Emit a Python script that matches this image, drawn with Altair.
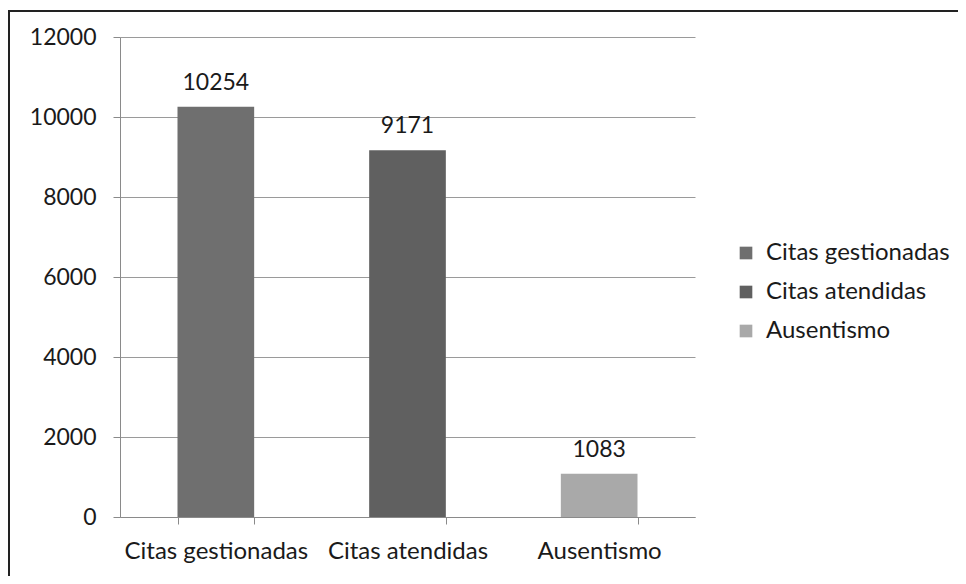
import altair as alt
import pandas as pd

categories = ["Citas gestionadas", "Citas atendidas", "Ausentismo"]
values = [10254, 9171, 1083]
colors = ["#6f6f6f", "#606060", "#a9a9a9"]
y_ticks = [0, 2000, 4000, 6000, 8000, 10000, 12000]

df = pd.DataFrame({"cat": categories, "val": values})

FONT = "Lato"
FS = 23
FS_CAT = 24
TXT = "#1a1a1a"

base = alt.Chart(df)

bars = base.mark_bar().encode(
    x=alt.X("cat:N", sort=categories, title=None,
            scale=alt.Scale(paddingInner=0.6, paddingOuter=0.3),
            axis=alt.Axis(labelAngle=0, tickBand="extent", tickSize=7,
                          labelPadding=15, domainColor="#8a8a8a", tickColor="#8a8a8a",
                          grid=False, labelFont=FONT, labelFontSize=FS_CAT, labelColor=TXT,
                          labelLimit=0)),
    y=alt.Y("val:Q", title=None,
            scale=alt.Scale(domain=[0, 12000], nice=False),
            axis=alt.Axis(values=y_ticks, format="d", tickSize=7, labelPadding=17,
                          domainColor="#8a8a8a", tickColor="#8a8a8a",
                          gridColor="#9a9a9a", grid=True, gridWidth=1,
                          labelFont=FONT, labelFontSize=FS, labelColor=TXT)),
    color=alt.Color("cat:N", sort=categories,
                    scale=alt.Scale(domain=categories, range=colors),
                    legend=alt.Legend(title=None, orient="none", legendX=614, legendY=204,
                                      symbolType="square", symbolSize=160,
                                      symbolStrokeWidth=0, labelOffset=8,
                                      rowPadding=15, padding=0, labelLimit=0,
                                      labelFont=FONT, labelFontSize=FS_CAT, labelColor=TXT)),
)

labels = base.mark_text(baseline="bottom", dy=-12, font=FONT, fontSize=FS, color=TXT).encode(
    x=alt.X("cat:N", sort=categories),
    y="val:Q",
    text="val:Q",
)

border_top = base.mark_rule(color="#222222", strokeWidth=2).encode(
    x=alt.value(-112), x2=alt.value(840), y=alt.value(-26)
)
border_left = base.mark_rule(color="#222222", strokeWidth=2).encode(
    x=alt.value(-111), y=alt.value(-27), y2=alt.value(540)
)

chart = alt.layer(bars, labels, border_top, border_left).properties(
    width=575, height=480,
    background="white",
    autosize=alt.AutoSizeParams(type="none"),
    padding={"left": 112, "top": 29, "right": 263, "bottom": 59},
).configure_view(stroke=None)

chart.save("out.html", embed_options={"renderer": "svg", "actions": False})
